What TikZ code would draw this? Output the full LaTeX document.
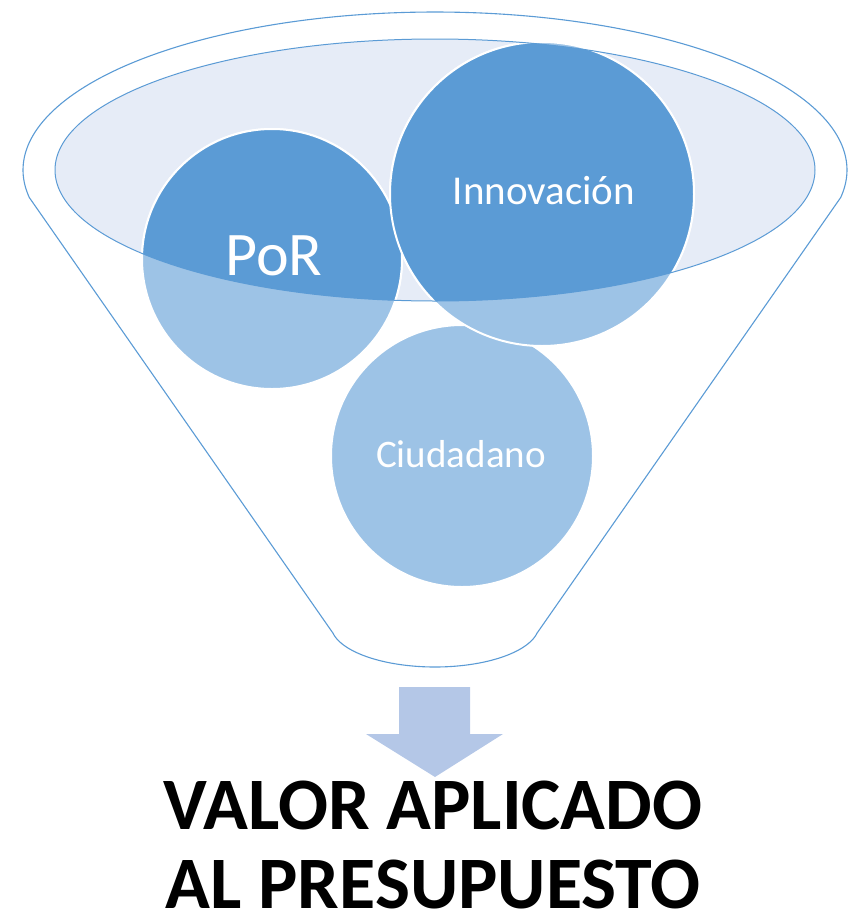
\documentclass[tikz,border=0pt]{standalone}
\usepackage{fontspec}
\setmainfont{Carlito}
\definecolor{fline}{HTML}{5B9BD5}
\definecolor{dark}{HTML}{5B9BD5}
\definecolor{light}{HTML}{9DC3E6}
\definecolor{ellfill}{HTML}{E6ECF7}
\definecolor{arrowc}{HTML}{B4C7E7}
\tikzset{
  funnelline/.style={draw=fline, line width=1.1pt},
  lightball/.style={fill=light, draw=white, line width=2pt},
  darkball/.style={fill=dark, draw=white, line width=2pt},
  balltext/.style={text=white, anchor=base, inner sep=0pt},
  titletext/.style={text=black, anchor=base, inner sep=0pt, font=\fontsize{74}{74}\selectfont\bfseries},
}
\begin{document}
\begin{tikzpicture}[x=1pt,y=-1pt]
\useasboundingbox (0,0) rectangle (851,919);
% funnel outline
\draw[funnelline, line join=round]
  plot[domain=170:370, samples=150] ({435+412*cos(\x)},{170+158*sin(\x)})
  -- plot[domain=11.2:168.8, samples=80] ({435+104*cos(\x)},{625+42*sin(\x)})
  -- cycle;
% inner ellipse fill
\fill[ellfill] (435,170) ellipse[x radius=380pt, y radius=131pt];
% centres
\coordinate (cP) at (272,259);
\coordinate (cI) at (542,194);
\coordinate (cC) at (462,456);
% light balls
\filldraw[lightball] (cC) circle[radius=131pt];
\filldraw[lightball] (cP) circle[radius=130pt];
\filldraw[lightball] (cI) circle[radius=152pt];
% dark parts inside ellipse
\begin{scope}
  \clip (435,170) ellipse[x radius=380pt, y radius=131pt];
  \filldraw[darkball] (cP) circle[radius=130pt];
  \filldraw[darkball] (cI) circle[radius=152pt];
\end{scope}
% ellipse outline
\draw[draw=fline, line width=1pt] (435,170) ellipse[x radius=380pt, y radius=131pt];
% texts
\node[balltext, font=\fontsize{62}{62}\selectfont] (por) at (274,275) {PoR};
\node[balltext, font=\fontsize{41}{41}\selectfont] (inn) at (544,204) {Innovación};
\node[balltext, font=\fontsize{39}{39}\selectfont] (ciu) at (461,467) {Ciudadano};
% arrow
\fill[arrowc] (399,687) -- (470,687) -- (470,734) -- (503,734) -- (435,777) -- (366,734) -- (399,734) -- cycle;
% title
\node[titletext] (t1) at (433,829) {VALOR APLICADO};
\node[titletext] (t2) at (433,908) {AL PRESUPUESTO};
\end{tikzpicture}
\end{document}
